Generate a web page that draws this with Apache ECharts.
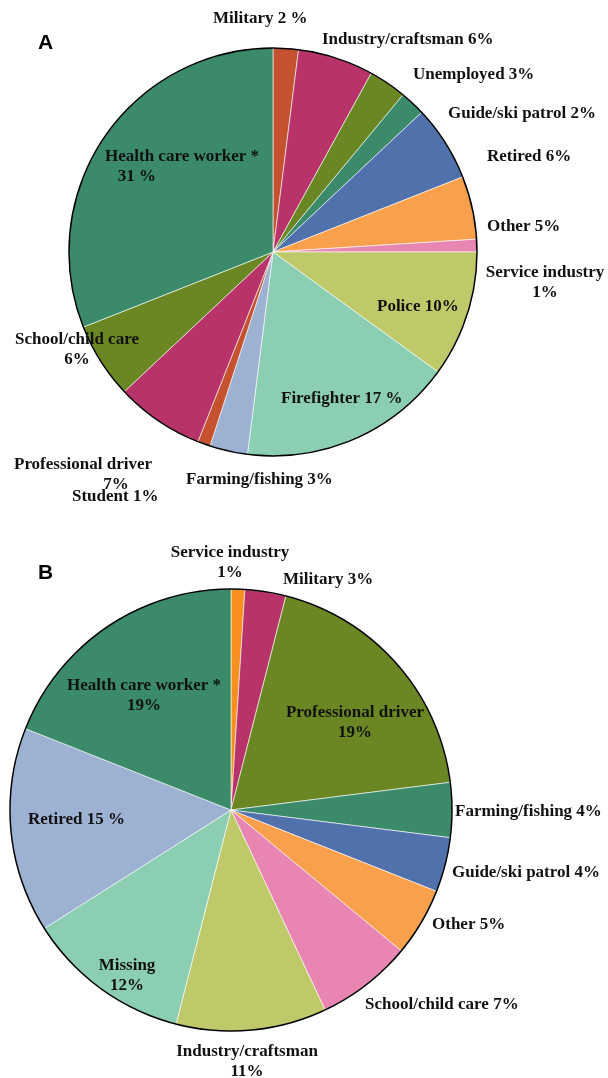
<!DOCTYPE html>
<html>
<head>
<meta charset="utf-8">
<script src="https://cdn.jsdelivr.net/npm/echarts@6/dist/echarts.min.js"></script>
<style>
  html, body { margin: 0; padding: 0; background: #fff; }
  #chart { width: 608px; height: 1078px; }
</style>
</head>
<body>
<div id="chart"></div>
<script>
// Panel A (clockwise from 12 o'clock)
const namesA = ['Military', 'Industry/craftsman', 'Unemployed', 'Guide/ski patrol', 'Retired', 'Other',
  'Service industry', 'Police', 'Firefighter', 'Farming/fishing', 'Student', 'Professional driver',
  'School/child care', 'Health care worker *'];
const valuesA = [2, 6, 3, 2, 6, 5, 1, 10, 17, 3, 1, 7, 6, 31];
const textA = ['Military 2 %', 'Industry/craftsman 6%', 'Unemployed 3%', 'Guide/ski patrol 2%', 'Retired 6%',
  'Other 5%', 'Service industry\n1%', 'Police 10%', 'Firefighter 17 %', 'Farming/fishing 3%', 'Student 1%',
  'Professional driver\n                     7%', 'School/child care\n6%', 'Health care worker *\n   31 %'];
const colorsA = ['#C4522E', '#B8336A', '#6B8723', '#3B8B6B', '#5171AD', '#F9A04D', '#E985B2',
  '#BFC96A', '#8BCEB1', '#9DB1D3', '#C4522E', '#B8336A', '#6B8723', '#3B8B6B'];

// Panel B
const namesB = ['Service industry', 'Military', 'Professional driver', 'Farming/fishing', 'Guide/ski patrol',
  'Other', 'School/child care', 'Industry/craftsman', 'Missing', 'Retired', 'Health care worker *'];
const valuesB = [1, 3, 19, 4, 4, 5, 7, 11, 12, 15, 19];
const textB = ['Service industry\n1%', 'Military 3%', 'Professional driver\n19%', 'Farming/fishing 4%',
  'Guide/ski patrol 4%', 'Other 5%', 'School/child care 7%', 'Industry/craftsman\n11%', 'Missing\n12%',
  'Retired 15 %', 'Health care worker *\n19%'];
const colorsB = ['#F7901E', '#B8336A', '#6B8723', '#3B8B6B', '#5171AD', '#F9A04D', '#E985B2',
  '#BFC96A', '#8BCEB1', '#9DB1D3', '#3B8B6B'];

// label anchor [x, y, align] for each slice
const labelPosA = [[213, 19, 'left'], [322, 40, 'left'], [413, 75, 'left'], [448, 114, 'left'],
  [487, 157, 'left'], [487, 227, 'left'], [545, 283, 'center'], [377, 307, 'left'], [281, 399, 'left'],
  [186, 480, 'left'], [72, 497, 'left'], [14, 475, 'left'], [77, 350, 'center'], [105, 167, 'left']];
const labelPosB = [[230, 563, 'center'], [283, 580, 'left'], [355, 723, 'center'], [455, 812, 'left'],
  [452, 873, 'left'], [432, 925, 'left'], [365, 1005, 'left'], [247, 1062, 'center'], [127, 976, 'center'],
  [28, 820, 'left'], [144, 696, 'center']];

const chart = echarts.init(document.getElementById('chart'));

function makePie(names, values, texts, colors, labelPos, center, radius) {
  return {
    type: 'pie',
    center: center,
    radius: radius,
    startAngle: 90,
    clockwise: true,
    avoidLabelOverlap: false,
    animation: false,
    silent: true,
    data: names.map((n, i) => ({
      name: n,
      value: values[i],
      itemStyle: { color: colors[i] },
      label: { formatter: texts[i] }
    })),
    itemStyle: { borderColor: '#ffffff', borderWidth: 0.6 },
    label: {
      show: true,
      position: 'outside',
      color: '#111',
      fontFamily: '"Liberation Serif", "Times New Roman", serif',
      fontWeight: 'bold',
      fontSize: 17,
      lineHeight: 20
    },
    labelLine: { show: false },
    labelLayout: function (p) {
      const pos = labelPos[p.dataIndex];
      return { x: pos[0], y: pos[1], align: pos[2], verticalAlign: 'middle', hideOverlap: false };
    }
  };
}

// outline ring drawn as a single full slice with no fill
function makeOutline(center, radius) {
  return {
    type: 'pie',
    center: center,
    radius: radius,
    silent: true,
    animation: false,
    label: { show: false },
    labelLine: { show: false },
    data: [{ value: 1, itemStyle: { color: 'rgba(0,0,0,0)', borderColor: '#000', borderWidth: 1.5 } }]
  };
}

const option = {
  title: [
    { text: 'A', left: 33, top: 28, textStyle: { fontFamily: '"Liberation Sans", Arial, sans-serif', fontSize: 21, fontWeight: 'bold', color: '#000' } },
    { text: 'B', left: 33, top: 558, textStyle: { fontFamily: '"Liberation Sans", Arial, sans-serif', fontSize: 21, fontWeight: 'bold', color: '#000' } }
  ],
  series: [
    makePie(namesA, valuesA, textA, colorsA, labelPosA, [273, 252], 204),
    makeOutline([273, 252], 204),
    makePie(namesB, valuesB, textB, colorsB, labelPosB, [231, 810], 221),
    makeOutline([231, 810], 221)
  ]
};

option && chart.setOption(option);
</script>
</body>
</html>
